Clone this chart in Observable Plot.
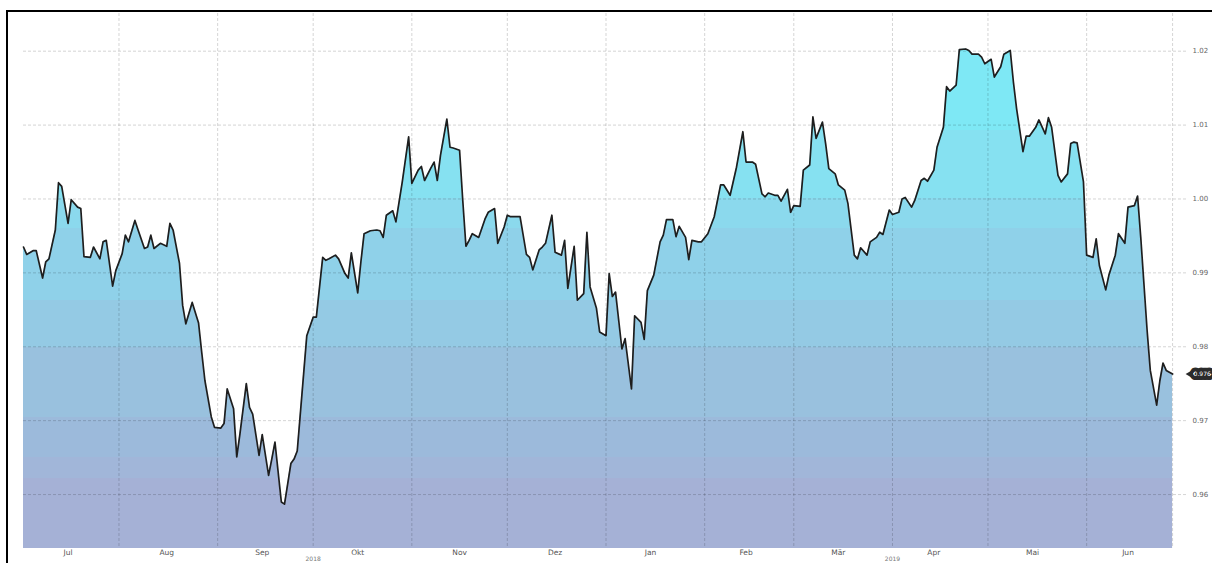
<!DOCTYPE html>
<html><head><meta charset="utf-8">
<script src="https://cdn.jsdelivr.net/npm/d3@7"></script>
<script src="https://cdn.jsdelivr.net/npm/@observablehq/plot@0.6"></script>
<style>
html,body{margin:0;padding:0;background:#fff;overflow:hidden;width:1212px;height:563px}
#frame{position:absolute;left:6px;top:10px;width:1206px;height:553px;border-top:2px solid #000;border-left:2px solid #000;box-sizing:border-box;overflow:hidden}
#chart{position:absolute;left:0;top:0}
</style></head><body><div id="frame"><div id="chart"></div></div>
<script>
// ---- data (USD/CHF daily close, Jul 2018 - Jun 2019) ----
const dates = [
"2018-07-02","2018-07-03","2018-07-05","2018-07-06","2018-07-08","2018-07-09","2018-07-10","2018-07-12","2018-07-13","2018-07-14",
"2018-07-16","2018-07-17","2018-07-19","2018-07-20","2018-07-21","2018-07-23","2018-07-24","2018-07-26","2018-07-27","2018-07-28",
"2018-07-30","2018-07-31","2018-08-02","2018-08-03","2018-08-04","2018-08-06","2018-08-07","2018-08-09","2018-08-10","2018-08-11",
"2018-08-12","2018-08-14","2018-08-16","2018-08-17","2018-08-18","2018-08-20","2018-08-21","2018-08-22","2018-08-24","2018-08-26",
"2018-08-27","2018-08-28","2018-08-30","2018-08-31","2018-09-02","2018-09-03","2018-09-04","2018-09-06","2018-09-07","2018-09-08",
"2018-09-10","2018-09-11","2018-09-12","2018-09-14","2018-09-15","2018-09-17","2018-09-18","2018-09-19","2018-09-21","2018-09-22",
"2018-09-24","2018-09-25","2018-09-26","2018-09-28","2018-09-29","2018-10-01","2018-10-02","2018-10-04","2018-10-05","2018-10-06",
"2018-10-08","2018-10-09","2018-10-11","2018-10-12","2018-10-13","2018-10-15","2018-10-16","2018-10-17","2018-10-19","2018-10-21",
"2018-10-22","2018-10-23","2018-10-24","2018-10-26","2018-10-27","2018-10-29","2018-10-31","2018-11-01","2018-11-03","2018-11-04",
"2018-11-05","2018-11-07","2018-11-08","2018-11-09","2018-11-10","2018-11-12","2018-11-13","2018-11-14","2018-11-16","2018-11-17",
"2018-11-18","2018-11-19","2018-11-20","2018-11-22","2018-11-24","2018-11-25","2018-11-27","2018-11-28","2018-11-30","2018-12-01",
"2018-12-02","2018-12-05","2018-12-07","2018-12-08","2018-12-09","2018-12-11","2018-12-12","2018-12-13","2018-12-15","2018-12-16",
"2018-12-18","2018-12-19","2018-12-20","2018-12-22","2018-12-23","2018-12-25","2018-12-26","2018-12-27","2018-12-29","2018-12-30",
"2019-01-01","2019-01-02","2019-01-03","2019-01-04","2019-01-06","2019-01-07","2019-01-09","2019-01-10","2019-01-12","2019-01-13",
"2019-01-14","2019-01-16","2019-01-18","2019-01-19","2019-01-20","2019-01-22","2019-01-23","2019-01-24","2019-01-26","2019-01-27",
"2019-01-28","2019-01-30","2019-01-31","2019-02-02","2019-02-04","2019-02-06","2019-02-07","2019-02-09","2019-02-11","2019-02-13",
"2019-02-14","2019-02-16","2019-02-17","2019-02-19","2019-02-20","2019-02-21","2019-02-23","2019-02-24","2019-02-25","2019-02-27",
"2019-02-28","2019-03-01","2019-03-03","2019-03-04","2019-03-06","2019-03-07","2019-03-08","2019-03-10","2019-03-11","2019-03-12",
"2019-03-14","2019-03-15","2019-03-17","2019-03-18","2019-03-20","2019-03-21","2019-03-22","2019-03-24","2019-03-25","2019-03-27",
"2019-03-28","2019-03-29","2019-03-31","2019-04-01","2019-04-03","2019-04-04","2019-04-05","2019-04-07","2019-04-08","2019-04-10",
"2019-04-11","2019-04-12","2019-04-14","2019-04-15","2019-04-17","2019-04-18","2019-04-19","2019-04-21","2019-04-22","2019-04-24",
"2019-04-25","2019-04-26","2019-04-28","2019-04-29","2019-04-30","2019-05-02","2019-05-03","2019-05-05","2019-05-06","2019-05-08",
"2019-05-09","2019-05-10","2019-05-12","2019-05-13","2019-05-14","2019-05-16","2019-05-17","2019-05-19","2019-05-20","2019-05-21",
"2019-05-23","2019-05-24","2019-05-26","2019-05-27","2019-05-28","2019-05-29","2019-05-31","2019-06-01","2019-06-03","2019-06-04",
"2019-06-05","2019-06-07","2019-06-08","2019-06-10","2019-06-11","2019-06-13","2019-06-14","2019-06-16","2019-06-17","2019-06-18",
"2019-06-20","2019-06-21","2019-06-23","2019-06-24","2019-06-25","2019-06-26","2019-06-28"
];
const values = [
0.9935,0.9925,0.9930,0.9930,0.9893,0.9915,0.9919,0.9958,1.0022,1.0017,
0.9967,0.9999,0.9989,0.9987,0.9922,0.9921,0.9935,0.9919,0.9942,0.9944,
0.9882,0.9903,0.9926,0.9951,0.9942,0.9971,0.9958,0.9933,0.9935,0.9951,
0.9933,0.9940,0.9936,0.9967,0.9958,0.9913,0.9856,0.9831,0.9860,0.9832,
0.9792,0.9754,0.9705,0.9691,0.9690,0.9696,0.9743,0.9716,0.9651,0.9682,
0.9750,0.9718,0.9709,0.9653,0.9681,0.9626,0.9648,0.9671,0.9590,0.9587,
0.9642,0.9648,0.9659,0.9763,0.9815,0.9840,0.9840,0.9921,0.9917,0.9919,
0.9924,0.9919,0.9899,0.9893,0.9927,0.9873,0.9915,0.9953,0.9957,0.9958,
0.9957,0.9948,0.9978,0.9984,0.9969,1.0023,1.0084,1.0021,1.0039,1.0044,
1.0025,1.0042,1.0050,1.0025,1.0059,1.0108,1.0070,1.0069,1.0066,0.9998,
0.9936,0.9944,0.9953,0.9948,0.9973,0.9982,0.9987,0.9940,0.9962,0.9978,
0.9976,0.9976,0.9925,0.9921,0.9904,0.9931,0.9935,0.9940,0.9978,0.9928,
0.9924,0.9944,0.9879,0.9936,0.9863,0.9872,0.9955,0.9881,0.9852,0.9820,
0.9815,0.9899,0.9868,0.9874,0.9797,0.9811,0.9743,0.9842,0.9833,0.9810,
0.9876,0.9897,0.9942,0.9951,0.9972,0.9972,0.9949,0.9963,0.9948,0.9918,
0.9944,0.9942,0.9942,0.9953,0.9976,1.0019,1.0019,1.0005,1.0043,1.0091,
1.0050,1.0050,1.0047,1.0007,1.0003,1.0008,1.0005,1.0005,0.9997,1.0013,
0.9982,0.9991,0.9990,1.0039,1.0046,1.0111,1.0082,1.0104,1.0075,1.0041,
1.0034,1.0019,1.0012,0.9994,0.9924,0.9919,0.9934,0.9924,0.9942,0.9948,
0.9955,0.9952,0.9985,0.9979,0.9982,1.0000,1.0002,0.9989,0.9998,1.0025,
1.0028,1.0024,1.0039,1.0070,1.0097,1.0152,1.0146,1.0154,1.0202,1.0203,
1.0201,1.0196,1.0196,1.0192,1.0183,1.0189,1.0165,1.0179,1.0196,1.0201,
1.0158,1.0122,1.0064,1.0085,1.0085,1.0097,1.0107,1.0088,1.0110,1.0097,
1.0032,1.0023,1.0034,1.0075,1.0077,1.0076,1.0023,0.9924,0.9921,0.9946,
0.9910,0.9877,0.9897,0.9924,0.9953,0.9940,0.9989,0.9991,1.0004,0.9948,
0.9822,0.9768,0.9721,0.9754,0.9778,0.9768,0.9763
];
const monthLabels = ["Jul","Aug","Sep","Okt","Nov","Dez","Jan","Feb","Mär","Apr","Mai","Jun"];
const monthMid = ["2018-07-16","2018-08-16","2018-09-15","2018-10-15","2018-11-16","2018-12-16",
                  "2019-01-15","2019-02-14","2019-03-15","2019-04-14","2019-05-15","2019-06-14"];
const yearLabels = ["2018","2019"];
const yearMid = ["2018-10-01","2019-04-01"];
const yTicks = [0.96,0.97,0.98,0.99,1.00,1.01,1.02];

// ---- styling ----
const W = 1204, H = 551;
const gridStyle = {stroke:"#000", strokeOpacity:0.17, strokeDasharray:"3,2", strokeWidth:1};
const fmtAxis = d3.format(".2f");
const fmtLast = d3.format(".3f");
// stepped gradient bands (upper value bound -> colour), top to bottom
const bands = [
  [1.03, "#7ee8f5"], [1.0093, "#86e1f1"], [1.0001, "#8bd9ed"], [0.9960, "#8fd1e9"],
  [0.9863, "#94cae4"], [0.9799, "#99c1de"], [0.9704, "#9cbadb"], [0.9650, "#a1b6d9"],
  [0.9622, "#a5b1d6"], [0.94, null]
];

const data = dates.map((d, i) => ({date: new Date(d), value: values[i]}));
const last = data[data.length - 1];
const monthStarts = d3.utcMonth.range(data[0].date, last.date);

const chart = Plot.plot({
  width: W, height: H,
  marginLeft: 15, marginRight: 24, marginTop: 1, marginBottom: 15,
  x: {type: "utc", domain: [new Date("2018-07-02"), new Date("2019-07-03")], axis: null},
  y: {domain: [0.9527, 1.0251], axis: null},
  style: {fontFamily: "'DejaVu Sans', Verdana, sans-serif", fontSize: "7.5px", background: "transparent"},
  marks: [
    Plot.areaY(data, {x: "date", y: "value", fill: "url(#fillGrad)", clip: true}),
    Plot.gridX(monthStarts, gridStyle),
    Plot.gridY(yTicks, gridStyle),
    Plot.ruleX([last], {x: "date", ...gridStyle}),
    Plot.lineY(data, {x: "date", y: "value", stroke: "#1e1e1e", strokeWidth: 1.7, strokeLinejoin: "round"}),
    Plot.axisY(yTicks, {anchor: "right", label: null, tickSize: 0, tickPadding: 4, tickFormat: fmtAxis, color: "#666", fontSize: 7}),
    Plot.text(monthLabels, {x: (d, i) => new Date(monthMid[i]), text: d => d, frameAnchor: "bottom", dy: 6, fill: "#555", fontSize: 7.5}),
    Plot.text(yearLabels, {x: (d, i) => new Date(yearMid[i]), text: d => d, frameAnchor: "bottom", dy: 12, fill: "#777", fontSize: 6}),
    Plot.dot([last], {x: "date", y: "value", symbol: "triangle", r: 3.2, rotate: -90, fill: "#2b2b2b", stroke: "none", dx: 18}),
    Plot.text([last], {x: "date", y: "value", text: d => fmtLast(d.value), dx: 21, textAnchor: "start",
      fill: "#fff", stroke: "#2b2b2b", strokeWidth: 8, strokeLinejoin: "round", fontSize: 6})
  ]
});

// gradient definition positioned with the chart's own y scale
const ys = chart.scale("y");
const ns = "http://www.w3.org/2000/svg";
const defs = document.createElementNS(ns, "defs");
const lg = document.createElementNS(ns, "linearGradient");
lg.setAttribute("id", "fillGrad");
lg.setAttribute("gradientUnits", "userSpaceOnUse");
const yTop = ys.apply(bands[0][0]), yBot = ys.apply(bands[bands.length - 1][0]);
lg.setAttribute("x1", 0); lg.setAttribute("x2", 0);
lg.setAttribute("y1", yTop); lg.setAttribute("y2", yBot);
for (let i = 0; i < bands.length - 1; i++) {
  const o1 = (ys.apply(bands[i][0]) - yTop) / (yBot - yTop);
  const o2 = (ys.apply(bands[i + 1][0]) - yTop) / (yBot - yTop);
  for (const o of [o1, o2]) {
    const s = document.createElementNS(ns, "stop");
    s.setAttribute("offset", o);
    s.setAttribute("stop-color", bands[i][1]);
    lg.appendChild(s);
  }
}
defs.appendChild(lg);
chart.insertBefore(defs, chart.firstChild);
document.getElementById("chart").appendChild(chart);
</script>
</body></html>
